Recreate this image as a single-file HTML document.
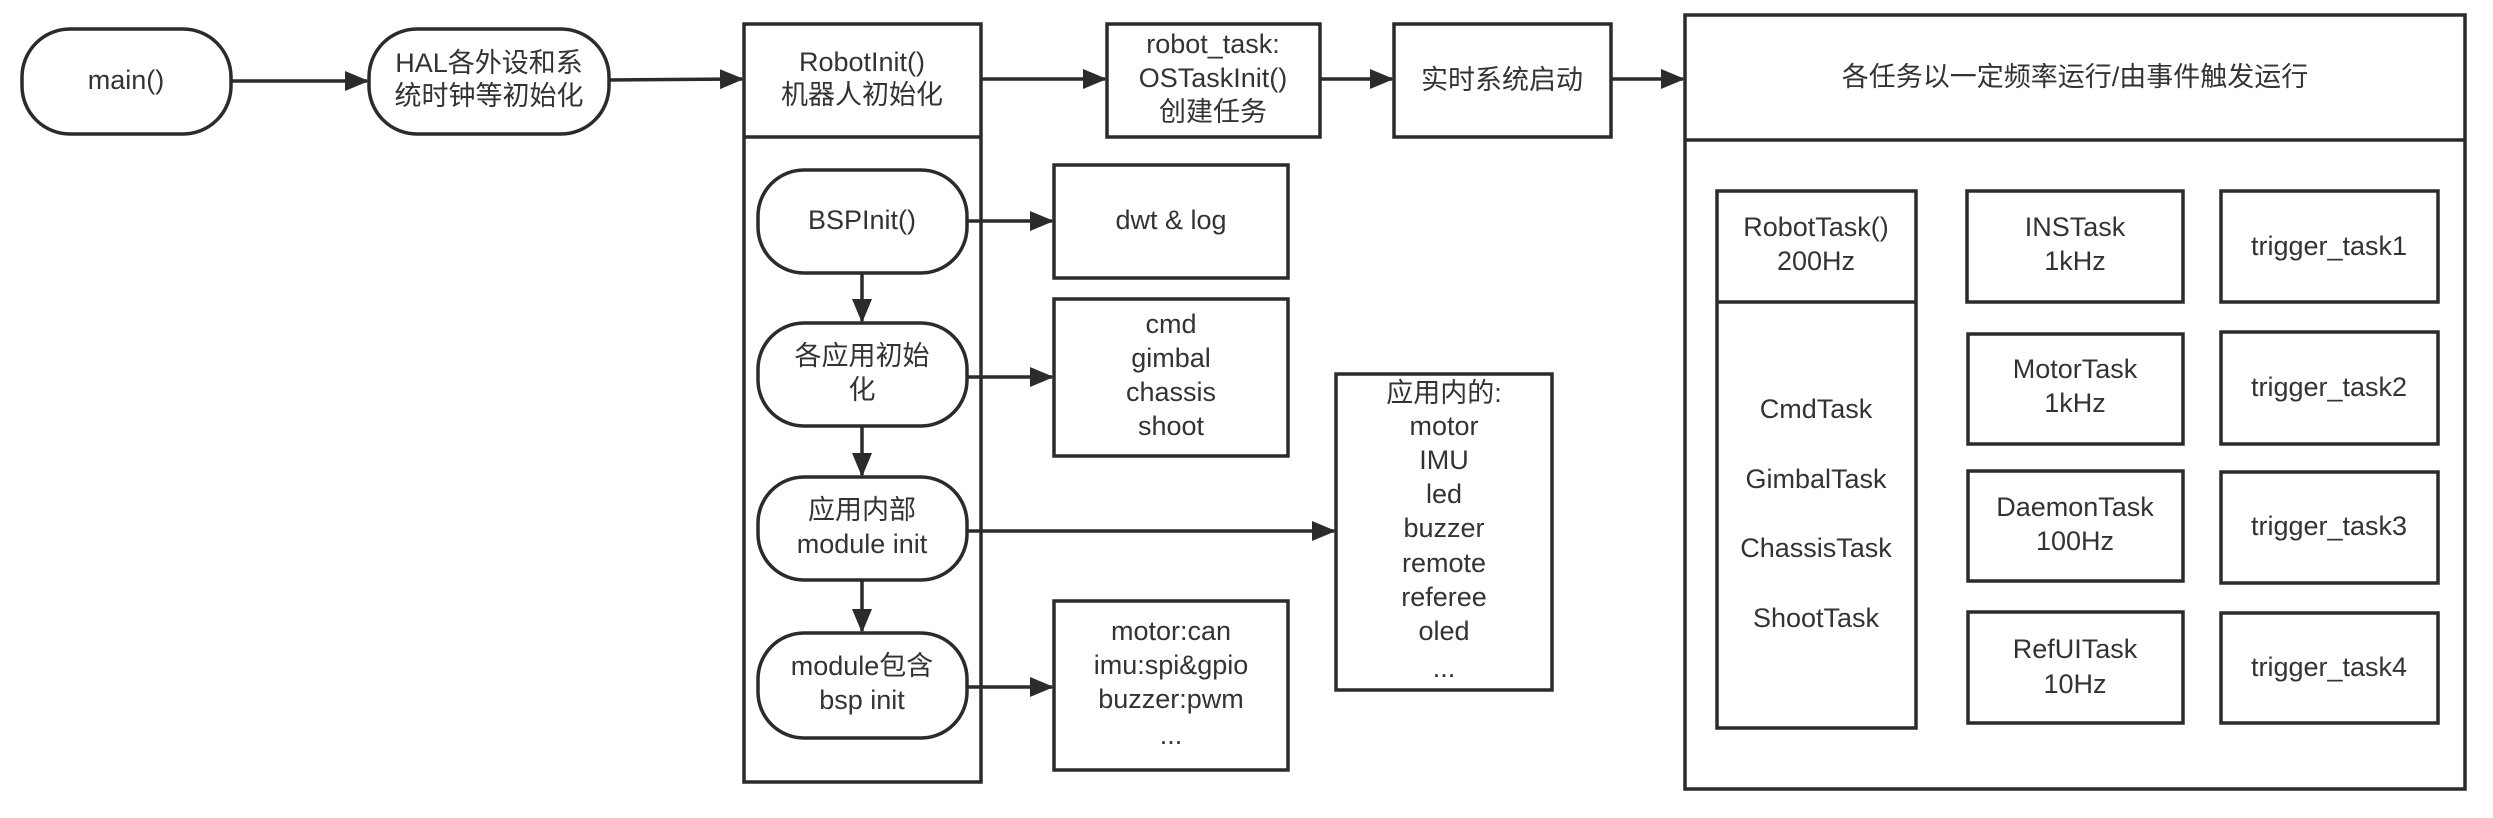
<!DOCTYPE html>
<html><head><meta charset="utf-8"><style>
html,body{margin:0;padding:0;background:#fff;}
svg{display:block}
text{font-family:"Liberation Sans","Noto Sans CJK SC",sans-serif;font-size:27px;fill:#333;text-anchor:middle;dominant-baseline:middle}
</style></head><body>
<svg width="2493" height="818" viewBox="0 0 2493 818" xmlns="http://www.w3.org/2000/svg">
<defs><marker id="a" markerWidth="24" markerHeight="20" refX="22" refY="10" orient="auto" markerUnits="userSpaceOnUse"><path d="M0,0 L24,10 L0,20 Z" fill="#2b2b2b"/></marker></defs>
<g fill="#fff" stroke="#2b2b2b" stroke-width="3.5">
<rect x="22" y="29" width="209" height="105" rx="48"/>
<rect x="369" y="29" width="240" height="105" rx="48"/>
<rect x="744" y="24" width="237" height="758"/>
<line x1="744" y1="137" x2="981" y2="137"/>
<rect x="758" y="170" width="209" height="103" rx="46"/>
<rect x="758" y="323" width="209" height="103" rx="46"/>
<rect x="758" y="477" width="209" height="103" rx="46"/>
<rect x="758" y="633" width="209" height="105" rx="46"/>
<rect x="1107" y="24" width="213" height="113"/>
<rect x="1394" y="24" width="217" height="113"/>
<rect x="1054" y="165" width="234" height="113"/>
<rect x="1054" y="299" width="234" height="157"/>
<rect x="1054" y="601" width="234" height="169"/>
<rect x="1336" y="374" width="216" height="316"/>
<rect x="1685" y="15" width="780" height="774"/>
<line x1="1685" y1="140" x2="2465" y2="140"/>
<rect x="1717" y="191" width="199" height="537"/>
<line x1="1717" y1="302" x2="1916" y2="302"/>
<rect x="1967" y="191" width="216" height="111"/>
<rect x="1968" y="334" width="215" height="110"/>
<rect x="1968" y="471" width="215" height="110"/>
<rect x="1968" y="612" width="215" height="111"/>
<rect x="2221" y="191" width="217" height="111"/>
<rect x="2221" y="332" width="217" height="112"/>
<rect x="2221" y="472" width="217" height="111"/>
<rect x="2221" y="613" width="217" height="110"/>
</g>
<g stroke="#2b2b2b" stroke-width="3.5" fill="none" marker-end="url(#a)">
<line x1="231" y1="81" x2="367" y2="81"/>
<line x1="609" y1="80" x2="742" y2="79"/>
<line x1="981" y1="79" x2="1105" y2="79"/>
<line x1="1320" y1="79" x2="1392" y2="79"/>
<line x1="1611" y1="79" x2="1683" y2="79"/>
<line x1="967" y1="221" x2="1052" y2="221"/>
<line x1="967" y1="377" x2="1052" y2="377"/>
<line x1="967" y1="531" x2="1334" y2="531"/>
<line x1="967" y1="687" x2="1052" y2="687"/>
<line x1="862" y1="273" x2="862" y2="321"/>
<line x1="862" y1="426" x2="862" y2="475"/>
<line x1="862" y1="580" x2="862" y2="631"/>
</g>
<text x="126" y="82">main()</text>
<text x="489" y="65">HAL各外设和系</text>
<text x="489" y="98">统时钟等初始化</text>
<text x="862" y="64">RobotInit()</text>
<text x="862" y="97">机器人初始化</text>
<text x="862" y="222">BSPInit()</text>
<text x="862" y="358">各应用初始</text>
<text x="862" y="392">化</text>
<text x="862" y="512">应用内部</text>
<text x="862" y="546">module init</text>
<text x="862" y="668">module包含</text>
<text x="862" y="702">bsp init</text>
<text x="1213" y="46">robot_task:</text>
<text x="1213" y="80">OSTaskInit()</text>
<text x="1213" y="114">创建任务</text>
<text x="1502" y="82">实时系统启动</text>
<text x="1171" y="222">dwt &amp; log</text>
<text x="1171" y="326">cmd</text>
<text x="1171" y="360">gimbal</text>
<text x="1171" y="394">chassis</text>
<text x="1171" y="428">shoot</text>
<text x="1171" y="633">motor:can</text>
<text x="1171" y="667">imu:spi&amp;gpio</text>
<text x="1171" y="701">buzzer:pwm</text>
<text x="1171" y="737">...</text>
<text x="1444" y="395">应用内的:</text>
<text x="1444" y="428">motor</text>
<text x="1444" y="462">IMU</text>
<text x="1444" y="496">led</text>
<text x="1444" y="530">buzzer</text>
<text x="1444" y="565">remote</text>
<text x="1444" y="599">referee</text>
<text x="1444" y="633">oled</text>
<text x="1444" y="670">...</text>
<text x="2075" y="79">各任务以一定频率运行/由事件触发运行</text>
<text x="1816" y="229">RobotTask()</text>
<text x="1816" y="263">200Hz</text>
<text x="1816" y="411">CmdTask</text>
<text x="1816" y="481">GimbalTask</text>
<text x="1816" y="550">ChassisTask</text>
<text x="1816" y="620">ShootTask</text>
<text x="2075" y="229">INSTask</text>
<text x="2075" y="263">1kHz</text>
<text x="2075" y="371">MotorTask</text>
<text x="2075" y="405">1kHz</text>
<text x="2075" y="509">DaemonTask</text>
<text x="2075" y="543">100Hz</text>
<text x="2075" y="651">RefUITask</text>
<text x="2075" y="686">10Hz</text>
<text x="2329" y="248">trigger_task1</text>
<text x="2329" y="389">trigger_task2</text>
<text x="2329" y="528">trigger_task3</text>
<text x="2329" y="669">trigger_task4</text>
</svg>
</body></html>
